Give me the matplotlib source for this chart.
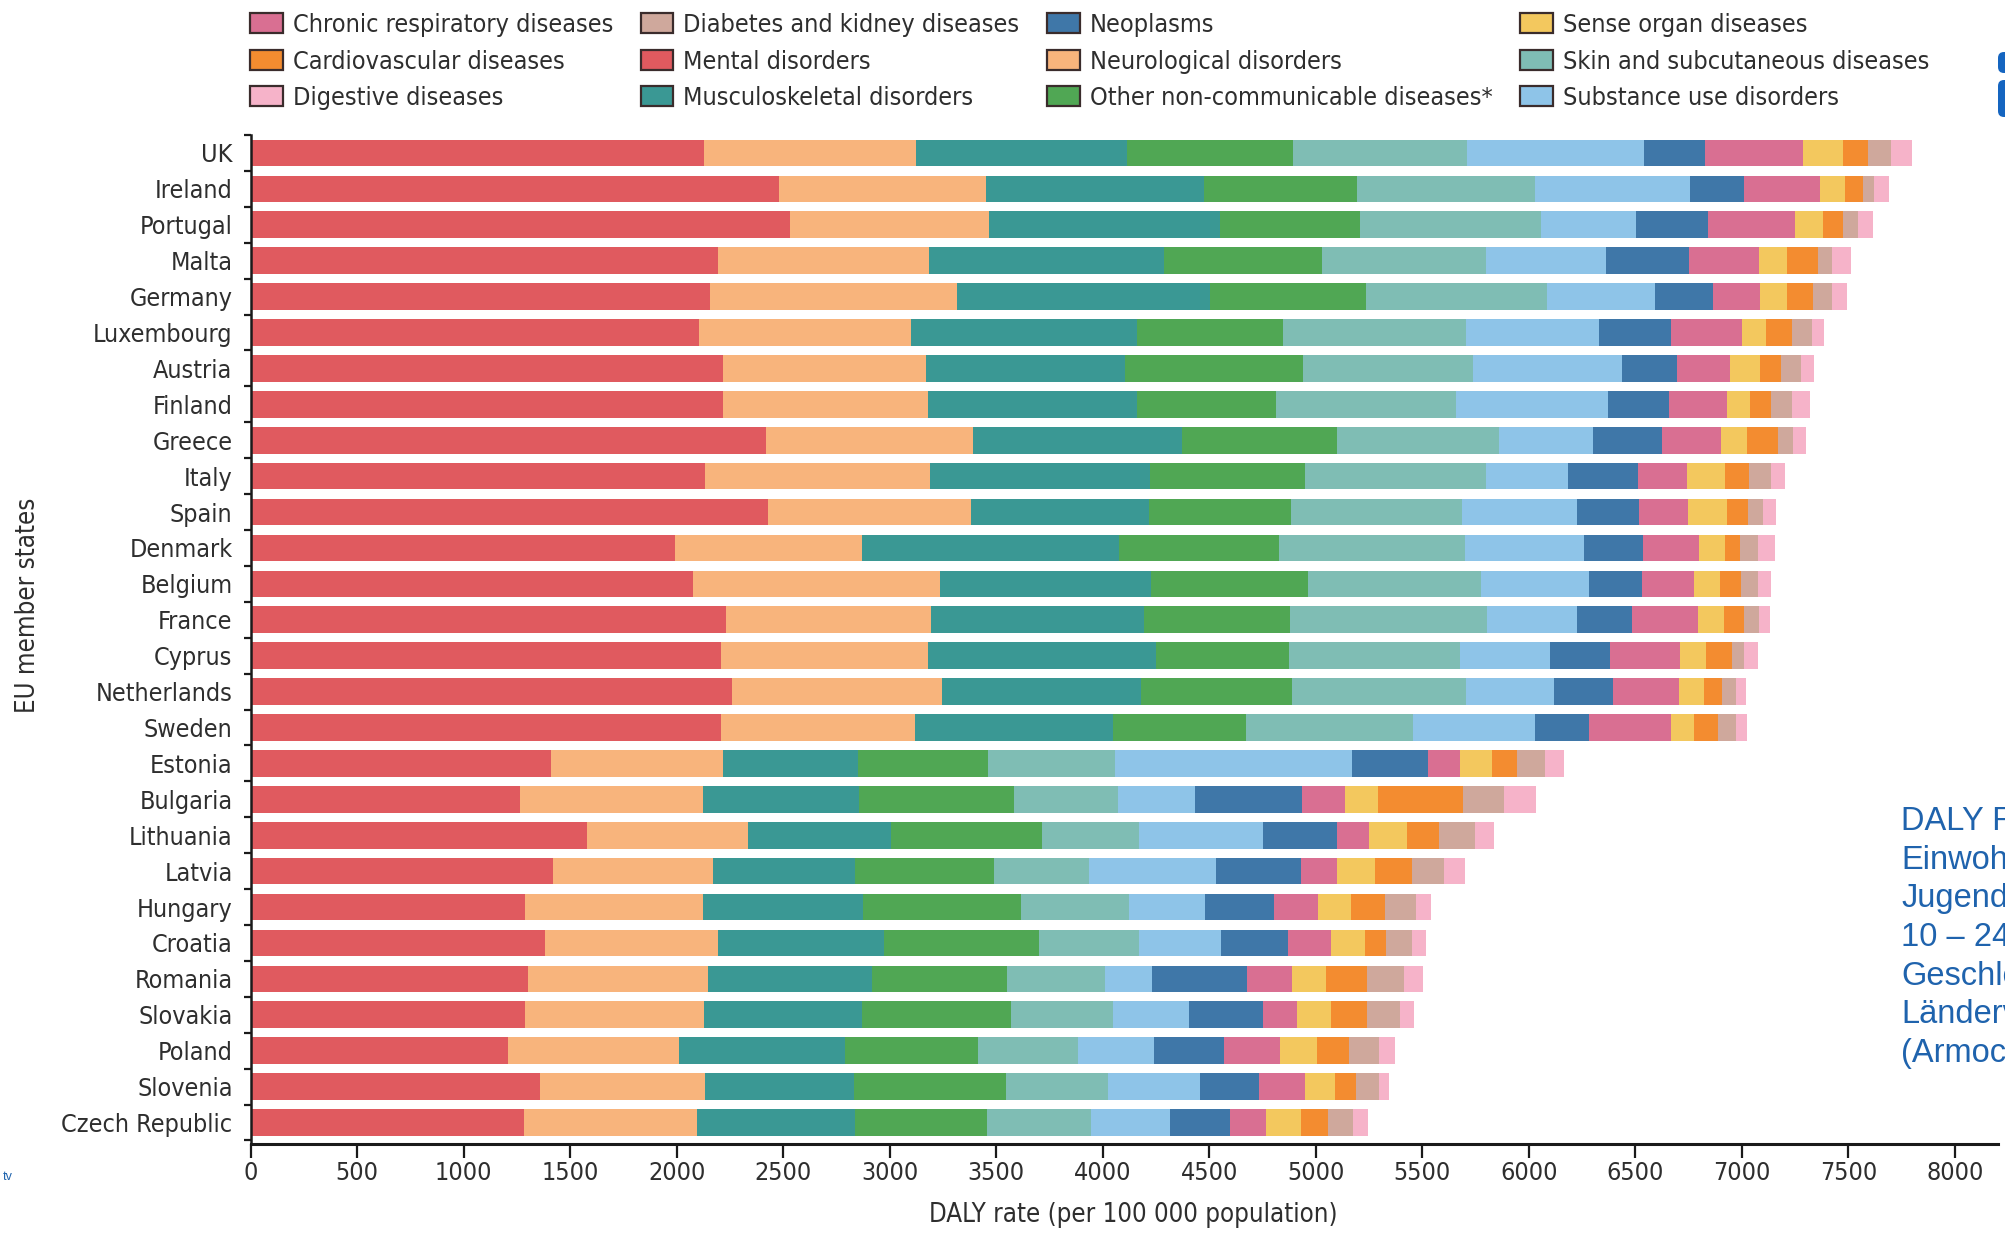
import matplotlib
matplotlib.use("Agg")
import matplotlib.pyplot as plt
from matplotlib import font_manager
from matplotlib.patches import Patch, FancyBboxPatch
from matplotlib.transforms import IdentityTransform
import numpy as np

# DALY rates per 100 000 population, young people aged 10-24, EU member states
countries = ["UK", "Ireland", "Portugal", "Malta", "Germany", "Luxembourg", "Austria",
             "Finland", "Greece", "Italy", "Spain", "Denmark", "Belgium", "France",
             "Cyprus", "Netherlands", "Sweden", "Estonia", "Bulgaria", "Lithuania",
             "Latvia", "Hungary", "Croatia", "Romania", "Slovakia", "Poland",
             "Slovenia", "Czech Republic"]

mental = [2130, 2480, 2530, 2195, 2155, 2105, 2215, 2215, 2420, 2135, 2430, 1990, 2075, 2230,
          2210, 2260, 2210, 1410, 1265, 1580, 1420, 1290, 1380, 1300, 1290, 1210, 1360, 1285]
neuro = [995, 970, 935, 990, 1160, 995, 955, 965, 970, 1055, 950, 880, 1160, 965,
         970, 985, 910, 805, 860, 755, 750, 835, 815, 845, 840, 800, 775, 810]
musculo = [990, 1025, 1085, 1100, 1190, 1060, 935, 980, 980, 1030, 835, 1205, 990, 1000,
           1070, 935, 930, 635, 730, 670, 665, 750, 780, 770, 740, 780, 695, 740]
other_ncd = [780, 720, 655, 745, 730, 685, 835, 655, 730, 730, 670, 750, 740, 685,
             625, 710, 620, 610, 730, 710, 655, 740, 725, 635, 700, 625, 715, 620]
skin = [815, 835, 850, 770, 850, 860, 800, 845, 760, 850, 800, 875, 810, 925,
        800, 815, 785, 595, 485, 455, 445, 510, 470, 460, 480, 470, 480, 490]
substance = [830, 725, 450, 560, 505, 625, 695, 710, 440, 385, 540, 560, 505, 420,
             425, 415, 575, 1115, 365, 580, 595, 355, 385, 220, 355, 355, 430, 370]
neoplasms = [285, 255, 335, 390, 275, 335, 260, 290, 325, 325, 290, 275, 250, 260,
             280, 275, 250, 355, 500, 350, 400, 325, 315, 445, 345, 330, 280, 280]
chronic_resp = [460, 355, 410, 330, 220, 335, 250, 270, 275, 230, 230, 265, 245, 310,
                330, 310, 385, 150, 200, 150, 170, 205, 200, 215, 160, 260, 215, 170]
sense_organ = [190, 120, 130, 130, 125, 115, 140, 110, 125, 180, 185, 120, 120, 120,
               120, 115, 110, 150, 155, 180, 180, 155, 160, 160, 160, 175, 140, 165]
cardio = [115, 85, 95, 145, 125, 120, 100, 95, 145, 115, 100, 70, 100, 95,
          125, 85, 115, 120, 400, 150, 170, 160, 100, 190, 170, 150, 100, 125]
diabetes = [110, 50, 70, 70, 90, 95, 90, 100, 70, 100, 70, 85, 80, 70,
            55, 65, 80, 130, 195, 165, 150, 145, 120, 175, 155, 140, 105, 120]
digestive = [100, 70, 70, 85, 70, 55, 65, 85, 60, 65, 60, 80, 60, 50,
             65, 50, 55, 90, 150, 90, 100, 70, 65, 90, 65, 75, 50, 70]

# stacking order, left to right
series = [
    ("Mental disorders", mental, "#e05a5f"),
    ("Neurological disorders", neuro, "#f8b47c"),
    ("Musculoskeletal disorders", musculo, "#3a9894"),
    ("Other non-communicable diseases*", other_ncd, "#50a754"),
    ("Skin and subcutaneous diseases", skin, "#7fbdb4"),
    ("Substance use disorders", substance, "#8ec4e8"),
    ("Neoplasms", neoplasms, "#3f77a8"),
    ("Chronic respiratory diseases", chronic_resp, "#d96f92"),
    ("Sense organ diseases", sense_organ, "#f3c85e"),
    ("Cardiovascular diseases", cardio, "#f38c30"),
    ("Diabetes and kidney diseases", diabetes, "#cfa89c"),
    ("Digestive diseases", digestive, "#f6b3c9"),
]
legend_order = ["Chronic respiratory diseases", "Cardiovascular diseases", "Digestive diseases",
                "Diabetes and kidney diseases", "Mental disorders", "Musculoskeletal disorders",
                "Neoplasms", "Neurological disorders", "Other non-communicable diseases*",
                "Sense organ diseases", "Skin and subcutaneous diseases", "Substance use disorders"]

# prefer a narrow face if one is installed
installed = {(f.name, f.stretch) for f in font_manager.fontManager.ttflist}
names = {n for n, _ in installed}
if "Liberation Sans Narrow" in names:
    FONT, STRETCH = ["Liberation Sans Narrow", "DejaVu Sans"], "normal"
elif ("DejaVu Sans", "condensed") in installed or ("DejaVu Sans", "semi-condensed") in installed:
    FONT, STRETCH = ["DejaVu Sans"], "condensed"
else:
    FONT, STRETCH = ["DejaVu Sans"], "normal"
plt.rcParams["font.family"] = FONT
plt.rcParams["font.stretch"] = STRETCH
TXT = "#2e2e2e"

fig = plt.figure(figsize=(20.05, 12.34), dpi=100)
fig.patch.set_facecolor("white")
renderer = fig.canvas.get_renderer()


def size_for(s, width_px):
    # font size at which s spans width_px pixels
    t = fig.text(0, 0, s, fontsize=20)
    w = t.get_window_extent(renderer).width
    t.remove()
    return 20 * width_px / w


tick_fs = size_for("Czech Republic", 171)
legend_fs = size_for("Chronic respiratory diseases", 321)
label_fs = size_for("DALY rate (per 100 000 population)", 409)

ax = fig.add_axes([0.125, 0.0729, 0.8713, 0.8177])

y = np.arange(len(countries))
left = np.zeros(len(countries))
for name, vals, color in series:
    vals = np.array(vals, dtype=float)
    ax.barh(y, vals, left=left, height=0.74, color=color, linewidth=0, label=name)
    left += vals

ax.set_xlim(0, 8200)
ax.set_ylim(27.6, -0.5)
ax.set_xticks(np.arange(0, 8001, 500))
ax.set_yticks(y)
ax.set_yticklabels(countries)
ax.set_yticks(np.arange(-0.5, 28, 1.0), minor=True)

for side in ("top", "right"):
    ax.spines[side].set_visible(False)
ax.spines["bottom"].set_linewidth(2.2)
ax.spines["left"].set_linewidth(1.8)
ax.spines["bottom"].set_color("#1a1a1a")
ax.spines["left"].set_color("#1a1a1a")

ax.tick_params(axis="x", length=10, width=1.6, pad=2, labelsize=tick_fs, colors="#1a1a1a", labelcolor=TXT)
ax.tick_params(axis="y", which="major", length=0, pad=13, labelsize=tick_fs, labelcolor=TXT)
ax.tick_params(axis="y", which="minor", length=5, width=1.6, color="#1a1a1a")

ax.set_xlabel("DALY rate (per 100 000 population)", fontsize=label_fs, color=TXT)
ax.xaxis.set_label_coords(0.505, -0.057)
fig.text(28 / 2005, 1 - 605 / 1234, "EU member states", rotation=90, fontsize=label_fs,
         color=TXT, ha="center", va="center")

lookup = {n: c for n, _, c in series}
handles = [Patch(facecolor=lookup[n], edgecolor="#3a2c2c", linewidth=1.6, label=n) for n in legend_order]
fig.legend(handles=handles, ncol=4, loc="upper left", bbox_to_anchor=(250 / 2005, 1 - 13 / 1234),
           frameon=False, fontsize=legend_fs, handlelength=1.3, handleheight=0.85,
           handletextpad=0.4, columnspacing=1.1, labelspacing=0.5,
           borderpad=0, borderaxespad=0, labelcolor=TXT)

# slide text at the right edge
blue = "#1f63ad"
fig.text(1901 / 2005, 1 - 806 / 1234,
         "DALY R\nEinwoh\nJugend\n10 – 24\nGeschle\nLänderv\n(Armoc",
         family=["Liberation Sans", "DejaVu Sans"], stretch="normal", fontsize=23.5, color=blue,
         ha="left", va="top", linespacing=1.32)
fig.text(13 / 2005, 1 - 1177 / 1234, "tv", family=["Liberation Sans", "DejaVu Sans"], stretch="normal",
         fontsize=9, color=blue, ha="right", va="center")

# blue tab marks at the top right edge
for y0, h in [(1234 - 73, 21), (1234 - 117, 37)]:
    fig.patches.append(FancyBboxPatch((1998, y0), 20, h, boxstyle="round,pad=0,rounding_size=6",
                                      transform=IdentityTransform(), facecolor="#1565c0",
                                      edgecolor="none", figure=fig))

fig.savefig("out.png", dpi=100, facecolor="white")
